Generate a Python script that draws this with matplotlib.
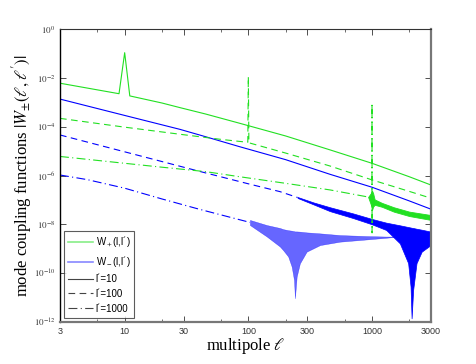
import numpy as np
import matplotlib
matplotlib.use('Agg')
import matplotlib.pyplot as plt
from matplotlib.lines import Line2D

plt.rcParams['mathtext.fontset'] = 'stix'
plt.rcParams['font.family'] = ['Liberation Sans', 'DejaVu Sans']

# data, values are log10 of |W|
# W+ (l, l'=10)
wp10_l = [3, 5, 9, 10, 11, 20, 28, 45, 85, 200, 457, 1000, 2000, 3000]
wp10_v = [-2.22, -2.42, -2.65, -0.97, -2.74, -3.03, -3.22, -3.48, -3.86, -4.38, -4.95, -5.50, -6.05, -6.39]

# W- (l, l'=10)
wm10_l = [3, 10, 28, 45, 85, 200, 457, 1000, 2000, 3000]
wm10_v = [-2.87, -3.54, -4.11, -4.41, -4.82, -5.35, -5.95, -6.48, -7.04, -7.38]

# W+ (l, l'=100)
wp100_l = [3, 10, 30, 60, 99, 100, 101, 200, 457, 1000, 2000, 3000]
wp100_v = [-3.66, -4.02, -4.33, -4.52, -4.64, -1.95, -4.66, -5.08, -5.61, -6.18, -6.65, -6.93]

# W+ (l, l'=1000), thin part + spike, then oscillating band
wp1000_l = [3, 10, 20, 45, 85, 200, 457, 930, 999, 1000, 1001, 1002]
wp1000_v = [-5.22, -5.50, -5.66, -5.84, -6.05, -6.32, -6.59, -6.88, -6.95, -3.04, -8.35, -7.10]
wp1000_band_l = [930, 980, 1000, 1020, 1050, 1200, 1500, 2000, 3000]
wp1000_band_hi = [-6.88, -6.72, -6.62, -6.72, -6.98, -7.12, -7.30, -7.48, -7.62]
wp1000_band_lo = [-6.88, -7.20, -7.42, -7.28, -7.20, -7.28, -7.48, -7.66, -7.82]

# W- (l, l'=100)
wm100_l = [3, 10, 41, 100, 180, 250]
wm100_v = [-4.34, -5.03, -5.84, -6.34, -6.66, -6.90]
wm100_band_l = [250, 335, 457, 700, 1000, 1300, 1680, 1960, 2050, 2090, 2150, 2290, 2520, 3000]
wm100_band_hi = [-6.88, -7.10, -7.30, -7.55, -7.78, -7.93, -8.04, -8.11, -8.13, -8.14, -8.15, -8.18, -8.22, -8.30]
wm100_band_lo = [-6.92, -7.18, -7.46, -7.74, -8.00, -8.23, -8.78, -9.59, -10.55, -11.85, -10.69, -9.59, -9.12, -8.84]

# W- (l, l'=1000)
wm1000_l = [3, 5, 10, 20, 40, 70, 103]
wm1000_v = [-5.98, -6.17, -6.52, -6.96, -7.38, -7.70, -7.92]
wm1000_band_l = [103, 141, 180, 192, 210, 224, 234, 238, 246, 261, 296, 380, 550, 900, 1300, 1500, 3000]
wm1000_band_hi = [-7.82, -8.03, -8.15, -8.20, -8.24, -8.26, -8.28, -8.29, -8.29, -8.30, -8.33, -8.37, -8.44, -8.48, -8.50, -8.50, -8.55]
wm1000_band_lo = [-8.03, -8.50, -8.91, -9.07, -9.32, -9.73, -10.28, -11.03, -10.14, -9.60, -9.12, -8.85, -8.71, -8.62, -8.55, -8.52, -8.55]

xticks = [3, 10, 30, 100, 300, 1000, 3000]
xminor = [6, 20, 60, 200, 600, 2000]

green = '#22e022'
blue = '#0000ff'

def p(v):
    return 10.0 ** np.array(v)

fig = plt.figure(figsize=(4.77, 3.64), dpi=100)
ax = fig.add_axes([0.1258, 0.1154, 0.7778, 0.8049])

lw = 0.8
ax.plot(wp10_l, p(wp10_v), color=green, lw=lw)
ax.plot(wm10_l, p(wm10_v), color=blue, lw=lw)
ax.plot(wp100_l, p(wp100_v), color=green, lw=lw, ls=(0, (6, 4)))
ax.plot(wm100_l, p(wm100_v), color=blue, lw=lw, ls=(0, (6, 4)))
ax.plot(wp1000_l, p(wp1000_v), color=green, lw=lw, ls=(0, (8, 3, 1, 3)))
ax.plot(wm1000_l, p(wm1000_v), color=blue, lw=lw, ls=(0, (8, 3, 1, 3)))

ax.fill_between(wp1000_band_l, p(wp1000_band_lo), p(wp1000_band_hi), color=green, lw=0.6)
ax.fill_between(wm100_band_l, p(wm100_band_lo), p(wm100_band_hi), color=blue, lw=0.5)
ax.fill_between(wm1000_band_l, p(wm1000_band_lo), p(wm1000_band_hi), color=blue, lw=0.3, alpha=0.6)

ax.set_xscale('log')
ax.set_yscale('log')
ax.set_xlim(3, 3000)
ax.set_ylim(1e-12, 1)

ax.set_xticks(xticks)
ax.set_xticklabels([str(t) for t in xticks])
ax.set_xticks(xminor, minor=True)
ax.set_xticklabels([], minor=True)
yexp = list(range(-12, 1, 2))
ax.set_yticks([10.0 ** k for k in yexp])
ax.set_yticklabels(['$10^{%d}$' % k for k in yexp])
ax.yaxis.set_minor_locator(matplotlib.ticker.NullLocator())

ax.tick_params(which='both', direction='in', top=True, right=True, labelsize=6.5, colors='#333333')
ax.tick_params(which='major', length=4, width=0.6)
ax.tick_params(which='minor', length=2, width=0.5)
for lab in ax.get_yticklabels():
    lab.set_fontfamily('DejaVu Sans')
    lab.set_fontsize(6.5)

ax.spines['left'].set_color('black')
ax.spines['left'].set_linewidth(1.0)
ax.spines['top'].set_color('#333333')
ax.spines['top'].set_linewidth(0.8)
ax.spines['bottom'].set_color('#777777')
ax.spines['bottom'].set_linewidth(1.6)
ax.spines['right'].set_color('#777777')
ax.spines['right'].set_linewidth(1.6)

serif = ['Liberation Serif', 'DejaVu Serif']
ax.set_xlabel(r'multipole $\ell$', fontsize=12, family=serif, labelpad=0)
ax.set_ylabel(r'mode coupling functions $|W_{\pm}(\ell,\ell^{\prime})|$', fontsize=12, family=serif)
ax.yaxis.set_label_coords(-0.07, 0.5)

handles = [
    Line2D([], [], color='#88ee88', lw=1.2),
    Line2D([], [], color='#8888ff', lw=1.2),
    Line2D([], [], color='#444444', lw=0.8),
    Line2D([], [], color='#444444', lw=0.8, ls=(0, (6, 4))),
    Line2D([], [], color='#444444', lw=0.8, ls=(0, (8, 3, 1, 3))),
]
labels = [r'W$_+$(l,l´)', r'W$_-$(l,l´)', 'l´=10', 'l´=100', 'l´=1000']
leg = ax.legend(handles, labels, loc='lower left', bbox_to_anchor=(0.01, 0.015),
                fontsize=7, frameon=True, fancybox=False, edgecolor='#333333',
                handlelength=2.6, borderpad=0.4, labelspacing=0.5, handletextpad=0.3,
                borderaxespad=0.0)
leg.get_frame().set_linewidth(0.8)

fig.savefig('out.png', dpi=100)
